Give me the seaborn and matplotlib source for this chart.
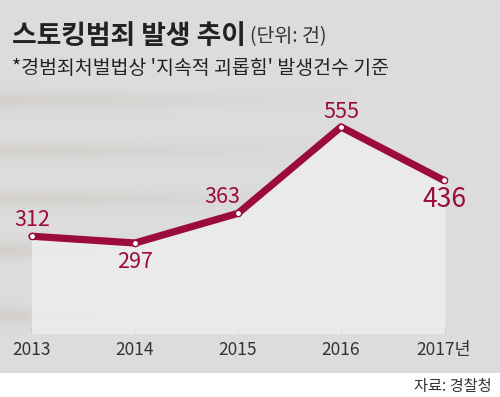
import matplotlib.pyplot as plt
import seaborn as sns
import pandas as pd
import numpy as np

# data
years = [2013, 2014, 2015, 2016, 2017]
year_labels = ["2013", "2014", "2015", "2016", "2017년"]
cases = [312, 297, 363, 555, 436]

sns.set_theme(style="white")
plt.rcParams['font.family'] = ['Noto Sans CJK KR', 'DejaVu Sans']

red = '#9b0b3b'
W, H = 500, 397

df = pd.DataFrame({'year': years, 'cases': cases})

fig = plt.figure(figsize=(5, 3.97), dpi=100)
fig.patch.set_facecolor('white')

# gray panel with blurred stripes on the left (background photo)
bg = fig.add_axes([0, 1 - 373 / H, 1, 373 / H], zorder=0)
yy = np.arange(373)[:, None]
xx = np.arange(500)[None, :]
base = np.array([0.863, 0.863, 0.863])
stripe = np.array([0.80, 0.78, 0.75])
alpha = np.zeros((373, 500))
for c in [100, 150, 198, 250, 315]:
    alpha += np.exp(-((yy - c) / 8.0) ** 2)
alpha = np.clip(alpha * np.clip(1 - xx / 360, 0, 1) * 0.55, 0, 1)
img = base[None, None, :] * (1 - alpha[..., None]) + stripe[None, None, :] * alpha[..., None]
bg.imshow(img, aspect='auto', interpolation='bilinear')
bg.axis('off')

ax = fig.add_axes([0, 1 - 333 / H, 1, 333 / H], zorder=2)
ax.patch.set_alpha(0)
ax.fill_between(years, cases, 97, color='#ececec', alpha=0.92, zorder=1)
sns.lineplot(data=df, x='year', y='cases', ax=ax, color=red, linewidth=5.2,
             marker='o', markersize=4.5, markerfacecolor='white',
             markeredgecolor=red, markeredgewidth=1.0, zorder=3)

ax.set_xlim(2013 - 32 / 103, 2013 + 468 / 103)
ax.set_ylim(97, 837)

offsets = [(0, 12), (0, -14), (-11, 12), (0, 11), (0, -14)]
sizes = [15.5, 15.5, 15.5, 15.5, 19]
for x, y, o, s in zip(years, cases, offsets, sizes):
    ax.annotate(str(y), (x, y), xytext=o, textcoords='offset points',
                ha='center', va='center', fontsize=s, color=red, zorder=4)

ax.set_xticks(years)
ax.set_xticklabels(year_labels, fontsize=12.5, color='#333333')
ax.set_yticks([])
ax.tick_params(axis='x', direction='in', length=4.5, width=1, color='#666666',
               pad=6, bottom=True)
for s in ax.spines.values():
    s.set_visible(False)
ax.set_xlabel('')
ax.set_ylabel('')

fig.text(12 / W, 1 - 36 / H, '스토킹범죄 발생 추이', fontsize=19.3, fontweight='bold',
         color='#222222', va='center', ha='left')
fig.text(250 / W, 1 - 37 / H, '(단위: 건)', fontsize=14, color='#333333',
         va='center', ha='left')
fig.text(12 / W, 1 - 68 / H, "*경범죄처벌법상 '지속적 괴롭힘' 발생건수 기준", fontsize=14,
         color='#222222', va='center', ha='left')
fig.text(492 / W, 1 - 386 / H, '자료: 경찰청', fontsize=11, color='#333333',
         va='center', ha='right')

fig.savefig('out.png', dpi=100)
